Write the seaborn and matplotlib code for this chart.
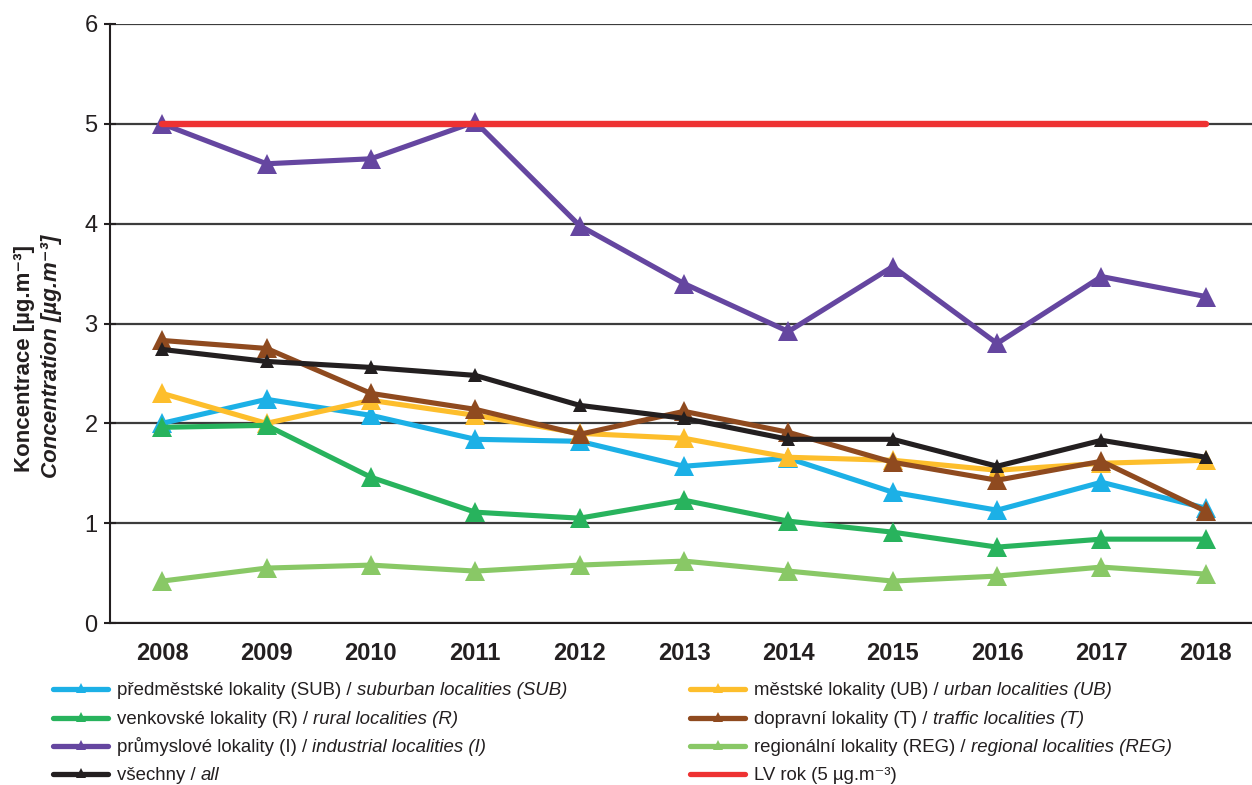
#!/usr/bin/env python3
"""Annual mean concentrations by locality type, 2008-2018, with the yearly limit value."""

import pandas as pd
import matplotlib
matplotlib.use("Agg")
import matplotlib.pyplot as plt
from matplotlib.lines import Line2D
import seaborn as sns

# Data
years = ["2008", "2009", "2010", "2011", "2012", "2013", "2014", "2015", "2016", "2017", "2018"]
suburban = [2.00, 2.24, 2.08, 1.84, 1.82, 1.57, 1.65, 1.31, 1.13, 1.41, 1.15]
urban = [2.30, 2.00, 2.23, 2.08, 1.90, 1.85, 1.66, 1.63, 1.53, 1.60, 1.63]
rural = [1.96, 1.98, 1.46, 1.11, 1.05, 1.23, 1.02, 0.91, 0.76, 0.84, 0.84]
traffic = [2.83, 2.75, 2.30, 2.14, 1.89, 2.12, 1.91, 1.61, 1.43, 1.62, 1.12]
industrial = [5.00, 4.60, 4.65, 5.02, 3.98, 3.40, 2.92, 3.57, 2.80, 3.47, 3.27]
regional = [0.42, 0.55, 0.58, 0.52, 0.58, 0.62, 0.52, 0.42, 0.47, 0.56, 0.49]
all_sites = [2.74, 2.62, 2.56, 2.48, 2.18, 2.05, 1.84, 1.84, 1.57, 1.83, 1.66]
limit_value = [5.0] * len(years)

series = [
    ("SUB", suburban, "#1cb0e6", "předměstské lokality (SUB) /", "suburban localities (SUB)"),
    ("UB", urban, "#fdbe2c", "městské lokality (UB) /", "urban localities (UB)"),
    ("R", rural, "#28b35d", "venkovské lokality (R) /", "rural localities (R)"),
    ("T", traffic, "#8f4a1f", "dopravní lokality (T) /", "traffic localities (T)"),
    ("I", industrial, "#6546a0", "průmyslové lokality (I) /", "industrial localities (I)"),
    ("REG", regional, "#89c866", "regionální lokality (REG) /", "regional localities (REG)"),
    ("all", all_sites, "#231f20", "všechny /", "all"),
]
lv_color = "#ee3232"
lv_label = "LV rok (5 µg.m⁻³)"
txt_color = "#231f20"

sns.set_theme(style="white")
plt.rcParams["font.family"] = ["Liberation Sans", "DejaVu Sans"]

W, H = 1252, 785
fig = plt.figure(figsize=(W / 100, H / 100), dpi=100)
ax = fig.add_axes([110 / W, 1 - 623 / H, 1148 / W, 599 / H])

idx = list(range(len(years)))
for key, vals, color, cz, en in series:
    df = pd.DataFrame({"x": idx, "y": vals})
    ms = 10 if key == "all" else 14
    sns.lineplot(data=df, x="x", y="y", ax=ax, color=color, linewidth=3.7,
                 marker="^", markersize=ms, markeredgewidth=0, legend=False, zorder=3)

lv = pd.DataFrame({"x": idx, "y": limit_value})
sns.lineplot(data=lv, x="x", y="y", ax=ax, color=lv_color, linewidth=4.6,
             legend=False, zorder=4)

# axes styling
ax.set_xlim(-0.5, len(years) - 0.5)
ax.set_ylim(0, 6)
ax.set_yticks(range(0, 7))
ax.set_yticklabels([str(v) for v in range(0, 7)], fontsize=17, color=txt_color)
ax.set_xticks(idx)
ax.set_xticklabels(years, fontsize=17, fontweight="bold", color=txt_color)
ax.set_xticks([i + 0.5 for i in idx[:-1]] + [-0.5], minor=True)
ax.tick_params(axis="x", which="major", length=0, pad=14)
ax.tick_params(axis="x", which="minor", length=6, width=1.5, direction="out", color=txt_color)
ax.tick_params(axis="y", length=8, width=1.5, direction="inout", color=txt_color, pad=5, left=True)
ax.set_xlabel("")
ax.set_ylabel("")
for s in ["top", "right"]:
    ax.spines[s].set_visible(False)
for s in ["left", "bottom"]:
    ax.spines[s].set_color(txt_color)
    ax.spines[s].set_linewidth(1.5)
ax.grid(axis="y", color="#3c3c3c", linewidth=1.6)
ax.grid(axis="x", visible=False)
ax.set_axisbelow(True)

# y label, two lines
fig.text(25 / W, 1 - 358 / H, "Koncentrace [µg.m⁻³]", rotation=90, ha="center", va="center",
         fontsize=16, fontweight="bold", color=txt_color)
fig.text(52 / W, 1 - 356 / H, "Concentration [µg.m⁻³]", rotation=90, ha="center", va="center",
         fontsize=16, fontweight="bold", fontstyle="italic", color=txt_color)

# legend drawn by hand: two columns, four rows, English part in italics
leg_fs = 13.4
row_y = [689, 717.5, 746, 774]
columns = [
    (53, 108, 117, ["SUB", "R", "I", "all"]),
    (690, 745, 754, ["UB", "T", "REG", "LV"]),
]
info = {key: (color, cz, en) for key, vals, color, cz, en in series}
info["LV"] = (lv_color, lv_label, "")

pieces = []
for x0, x1, xt, keys in columns:
    for ry, key in zip(row_y, keys):
        color, cz, en = info[key]
        yf = 1 - ry / H
        fig.add_artist(Line2D([x0 / W, x1 / W], [yf, yf], color=color, lw=3.8,
                              solid_capstyle="round"))
        if key != "LV":
            fig.add_artist(Line2D([(x0 + x1) / 2 / W], [yf + 1 / H], color=color,
                                  marker="^", markersize=7.5, markeredgewidth=0, lw=0))
        t = fig.text(xt / W, 1 - (ry + 6) / H, cz, ha="left", va="baseline",
                     fontsize=leg_fs, color=txt_color)
        pieces.append((t, en, ry))

fig.canvas.draw()
renderer = fig.canvas.get_renderer()
gap = 0.28 * leg_fs * 100 / 72
for t, en, ry in pieces:
    if not en:
        continue
    bb = t.get_window_extent(renderer)
    fig.text((bb.x1 + gap) / W, 1 - (ry + 6) / H, en, ha="left", va="baseline",
             fontsize=leg_fs, fontstyle="italic", color=txt_color)

fig.savefig("out.png", dpi=100)
plt.close(fig)
